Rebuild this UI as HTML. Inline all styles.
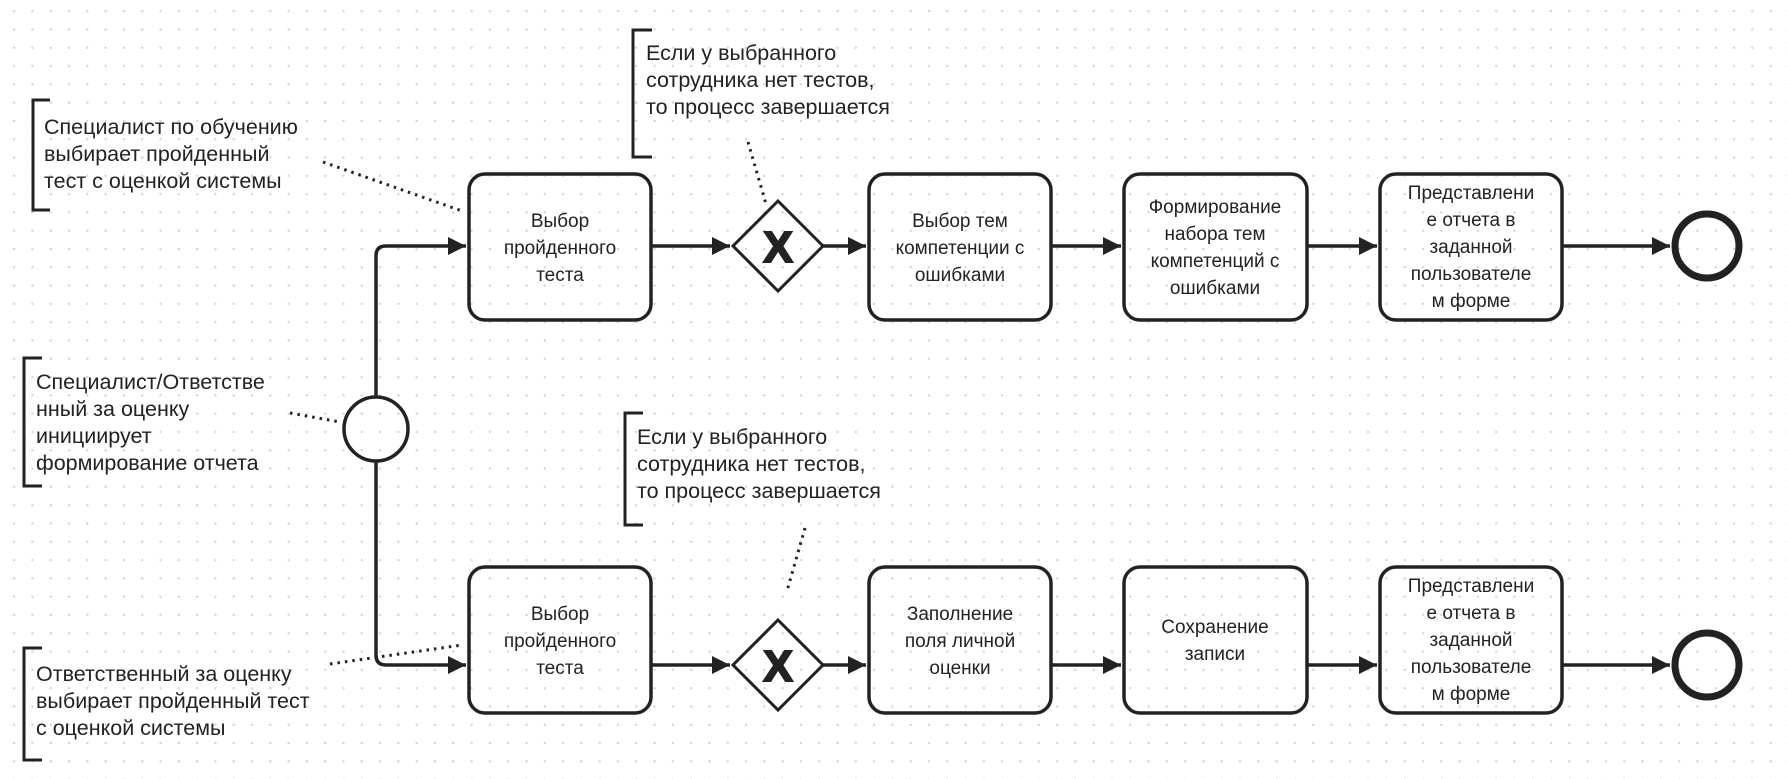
<!DOCTYPE html>
<html><head><meta charset="utf-8"><style>
html,body{margin:0;padding:0;}
body{width:1788px;height:779px;overflow:hidden;background:#fff;
background-image:radial-gradient(circle,#d4d4d4 1px,transparent 1.3px);background-size:18.3px 18.3px;background-position:5px 2px;}
svg{position:absolute;left:0;top:0;}
text{font-family:"Liberation Sans","Noto Sans CJK SC",sans-serif;font-size:19px;fill:#222;}
.an text{font-size:21.5px;}
</style></head><body>
<svg width="1788" height="779" viewBox="0 0 1788 779">
<defs>
<marker id="b" viewBox="0 0 10 10" markerWidth="18" markerHeight="18" refX="10" refY="5" orient="auto" markerUnits="userSpaceOnUse"><path d="M0,0 L10,5 L0,10 Z" fill="#222"/></marker></defs>
<g stroke="#222" stroke-width="3.5" fill="none">
<path d="M376,397 V256 Q376,246 386,246 H466" marker-end="url(#b)"/>
<path d="M376,461 V655 Q376,665 386,665 H466" marker-end="url(#b)"/>
<path d="M651,246 H730" marker-end="url(#b)"/>
<path d="M823,246 H866" marker-end="url(#b)"/>
<path d="M1051,246 H1121" marker-end="url(#b)"/>
<path d="M1307,246 H1377" marker-end="url(#b)"/>
<path d="M1562,246 H1670" marker-end="url(#b)"/>
<path d="M651,665 H730" marker-end="url(#b)"/>
<path d="M823,665 H866" marker-end="url(#b)"/>
<path d="M1051,665 H1121" marker-end="url(#b)"/>
<path d="M1307,665 H1377" marker-end="url(#b)"/>
<path d="M1562,665 H1670" marker-end="url(#b)"/>
<rect x="469" y="174" width="182" height="146" rx="16"/>
<rect x="869" y="174" width="182" height="146" rx="16"/>
<rect x="1124" y="174" width="183" height="146" rx="16"/>
<rect x="1380" y="174" width="182" height="146" rx="16"/>
<rect x="469" y="567" width="182" height="146" rx="16"/>
<rect x="869" y="567" width="182" height="146" rx="16"/>
<rect x="1124" y="567" width="183" height="146" rx="16"/>
<rect x="1380" y="567" width="182" height="146" rx="16"/>
<path d="M778,201 L823,246 L778,291 L733,246 Z" stroke-width="3"/>
<path d="M778,620 L823,665 L778,710 L733,665 Z" stroke-width="3"/>
<circle cx="376" cy="429" r="32"/>
<circle cx="1707" cy="246" r="32" stroke-width="7"/>
<circle cx="1707" cy="665" r="32" stroke-width="7"/>
<path d="M50,100 H33 V210 H50" stroke-width="3"/>
<path d="M652,30 H633 V157 H652" stroke-width="3"/>
<path d="M42,358 H24 V486 H42" stroke-width="3"/>
<path d="M42,648 H24 V760 H42" stroke-width="3"/>
<path d="M643,413 H625 V525 H643" stroke-width="3"/>
</g>
<g stroke="#222" stroke-width="3" stroke-dasharray="2.5 5" fill="none">
<path d="M323,162 L462,211"/>
<path d="M748,142 L766,204"/>
<path d="M290,413 L340,422"/>
<path d="M330,664 L462,645"/>
<path d="M805,528 L787,591"/>
</g>
<text x="778" y="262" text-anchor="middle" style="font-size:44px;font-weight:bold" stroke="#222" stroke-width="2">X</text>
<text x="778" y="681" text-anchor="middle" style="font-size:44px;font-weight:bold" stroke="#222" stroke-width="2">X</text>
<g text-anchor="middle">
<text x="560" y="227">Выбор</text><text x="560" y="254">пройденного</text><text x="560" y="281">теста</text>
<text x="960" y="227">Выбор тем</text><text x="960" y="254">компетенции с</text><text x="960" y="281">ошибками</text>
<text x="1215" y="213">Формирование</text><text x="1215" y="240">набора тем</text><text x="1215" y="267">компетенций с</text><text x="1215" y="294">ошибками</text>
<text x="1471" y="199">Представлени</text><text x="1471" y="226">е отчета в</text><text x="1471" y="253">заданной</text><text x="1471" y="280">пользователе</text><text x="1471" y="307">м форме</text>
<text x="560" y="620">Выбор</text><text x="560" y="647">пройденного</text><text x="560" y="674">теста</text>
<text x="960" y="620">Заполнение</text><text x="960" y="647">поля личной</text><text x="960" y="674">оценки</text>
<text x="1215" y="633">Сохранение</text><text x="1215" y="660">записи</text>
<text x="1471" y="592">Представлени</text><text x="1471" y="619">е отчета в</text><text x="1471" y="646">заданной</text><text x="1471" y="673">пользователе</text><text x="1471" y="700">м форме</text>
</g>
<g class="an">
<text x="44" y="134">Специалист по обучению</text><text x="44" y="161">выбирает пройденный</text><text x="44" y="188">тест с оценкой системы</text>
<text x="646" y="60">Если у выбранного</text><text x="646" y="87">сотрудника нет тестов,</text><text x="646" y="114">то процесс завершается</text>
<text x="36" y="389">Специалист/Ответстве</text><text x="36" y="416">нный за оценку</text><text x="36" y="443">инициирует</text><text x="36" y="470">формирование отчета</text>
<text x="36" y="681">Ответственный за оценку</text><text x="36" y="708">выбирает пройденный тест</text><text x="36" y="735">с оценкой системы</text>
<text x="637" y="444">Если у выбранного</text><text x="637" y="471">сотрудника нет тестов,</text><text x="637" y="498">то процесс завершается</text>
</g>
</svg>
</body></html>
